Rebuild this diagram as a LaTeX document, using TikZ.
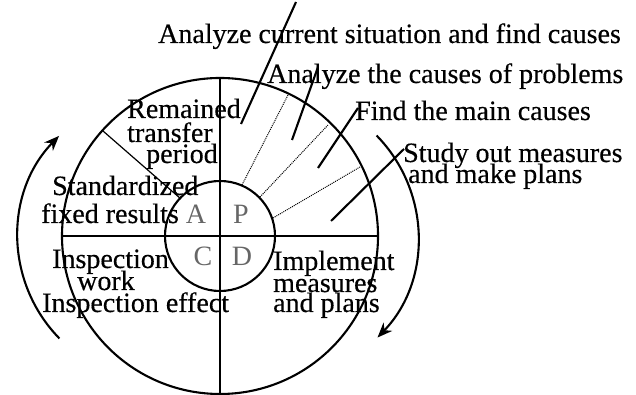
\documentclass[tikz,border=0pt]{standalone}
\usepackage{fontspec}
\setmainfont{Liberation Serif}[FakeBold=0.4]
\newfontfamily\pdcafont{Liberation Serif}
\usetikzlibrary{arrows.meta,calc}
\begin{document}
\begin{tikzpicture}[x=1pt,y=1pt,
  lbl/.style={anchor=base west,inner sep=0pt,font=\fontsize{28}{21}\selectfont},
  pdca/.style={inner sep=0pt,text=black!60,font=\pdcafont\fontsize{28}{28}\selectfont},
  thick line/.style={line width=2.1pt},
  leader/.style={line width=2.1pt},
  dotline/.style={line width=1pt,densely dotted},
  cyclearrow/.style={line width=2.1pt,-{Stealth[length=15pt,width=12pt]}}]
\useasboundingbox (0,0) rectangle (636,395);
% centre and circles
\coordinate (O) at (220,159);
\draw[thick line] (O) circle[radius=158];
\draw[thick line] (O) circle[radius=55];
\draw[thick line] (220,317) -- (220,1);
\draw[thick line] (62,159) -- (378,159);
% PDCA letters
\node[pdca] (A) at (196,181) {A};
\node[pdca] (P) at (241,181) {P};
\node[pdca] (C) at (203,139) {C};
\node[pdca] (D) at (242,139) {D};
% labels
\node[lbl] (t1) at (158,352) {Analyze current situation and find causes};
\node[lbl] (t2) at (267,312) {Analyze the causes of problems};
\node[lbl] (t3) at (355,275) {Find the main causes};
\node[lbl] (t4) at (403,233) {Study out measures};
\node[lbl] (t4b) at (408,212) {and make plans};
\node[lbl] (r1) at (127,277) {Remained};
\node[lbl] (r2) at (127,253) {transfer};
\node[lbl] (r3) at (146,232) {period};
\node[lbl] (s1) at (52,200) {Standardized};
\node[lbl] (s2) at (41,172) {fixed results};
\node[lbl] (i1) at (52,127) {Inspection};
\node[lbl] (i2) at (77,105) {work};
\node[lbl] (i3) at (42,83) {Inspection effect};
\node[lbl] (m1) at (273,125) {Implement};
\node[lbl] (m2) at (273,103) {measures};
\node[lbl] (m3) at (273,83) {and plans};
% leader lines
\coordinate (l1a) at (296,393); \coordinate (l1b) at (241,271);
\coordinate (l2a) at (318,328); \coordinate (l2b) at (292,255);
\coordinate (l3a) at (358,287); \coordinate (l3b) at (318,227);
\coordinate (l4a) at (404,246); \coordinate (l4b) at (331,174);
\draw[leader] (l1a) -- (l1b);
\draw[leader] (l2a) -- (l2b);
\draw[leader] (l3a) -- (l3b);
\draw[leader] (l4a) -- (l4b);
% dotted dividers in P
\coordinate (d1a) at (242,210); \coordinate (d1b) at (288,300);
\coordinate (d2a) at (260,198); \coordinate (d2b) at (328,270);
\coordinate (d3a) at (273,177); \coordinate (d3b) at (360,228);
\draw[dotline] (d1a) -- (d1b);
\draw[dotline] (d2a) -- (d2b);
\draw[dotline] (d3a) -- (d3b);
% thin divider in A
\coordinate (aa) at (103,264); \coordinate (ab) at (181,196);
\draw[line width=1.2pt] (aa) -- (ab);
% cycle arrows
\coordinate (LC) at (163,158);
\coordinate (RC) at (273,158);
\draw[cyclearrow] ($(LC)+(224.4:145)$) arc[start angle=224.4,end angle=135.8,radius=145];
\draw[cyclearrow] ($(RC)+(44.4:145)$) arc[start angle=44.4,end angle=-43.9,radius=145];
\end{tikzpicture}
\end{document}
